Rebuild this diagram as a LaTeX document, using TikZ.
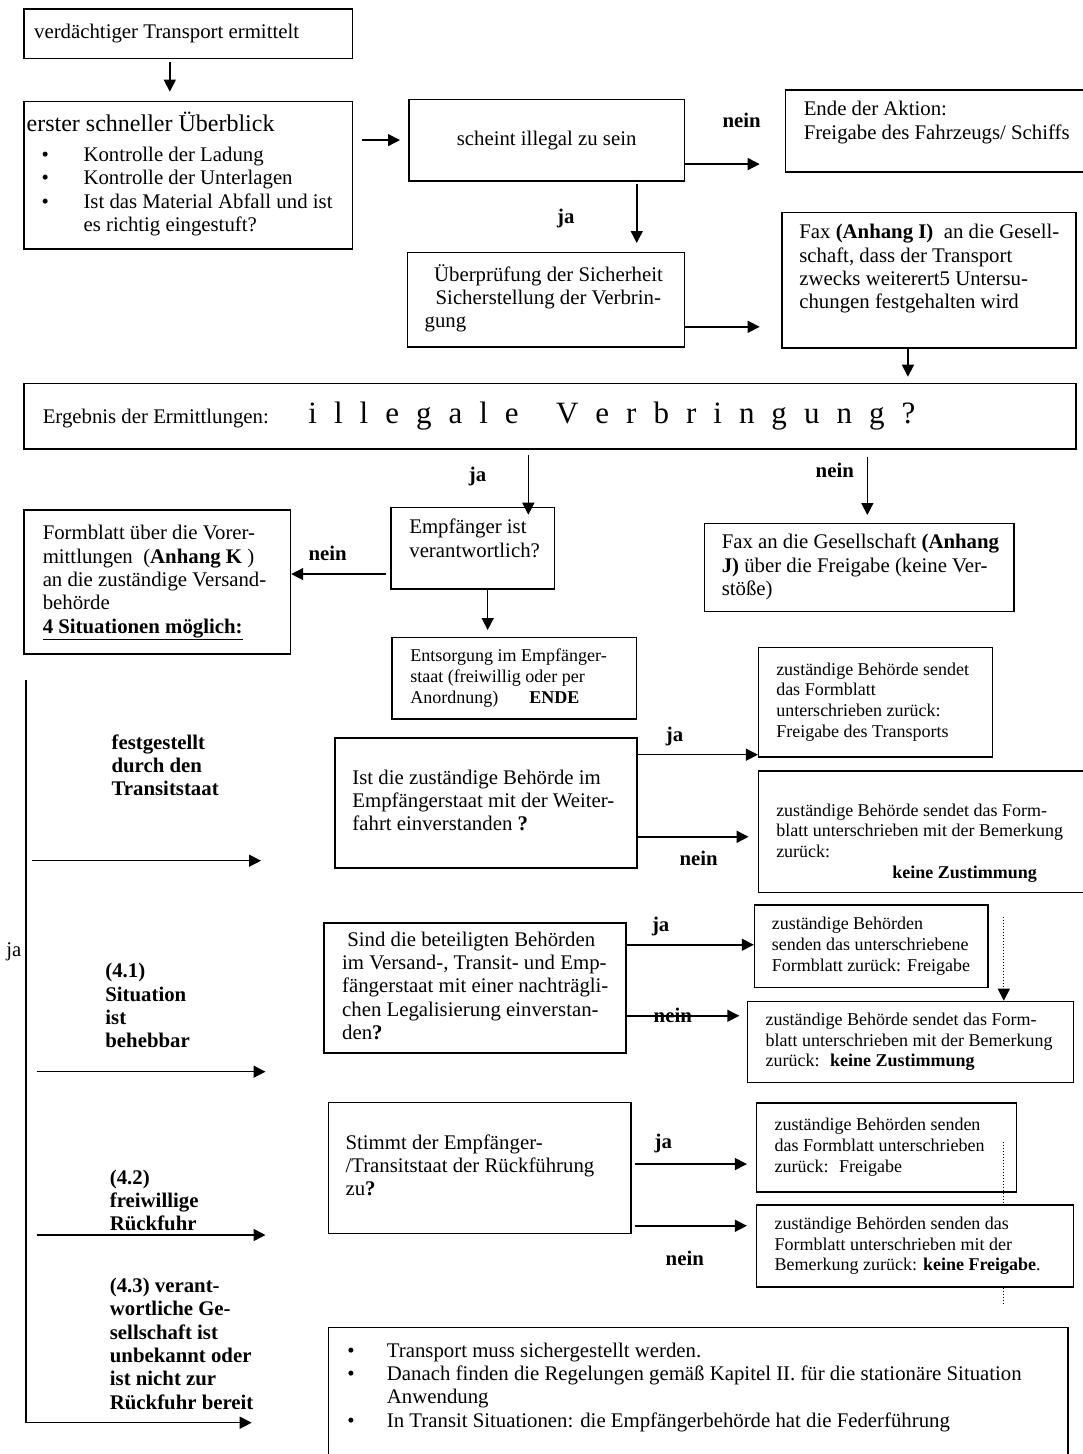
\documentclass[tikz,border=0pt]{standalone}
\usepackage{fontspec}
\setmainfont{Liberation Serif}
\usetikzlibrary{arrows.meta}
\newcommand{\boxtext}[3][17]{\makebox[#2pt][l]{\hspace*{#1pt}\begin{tabular}{@{}l@{}}#3\end{tabular}}}
\newcommand{\bitem}[2]{\hspace*{#1pt}\makebox[#2pt][l]{\textbullet}}
\newcommand{\lettersp}{\fontsize{31}{36}\selectfont\spaceskip=17pt\relax}
\begin{document}
\begin{tikzpicture}[x=1pt,y=-1pt,
  box/.style={draw,line width=1.5pt,anchor=north west,inner sep=0pt,font=\fontsize{20.8}{23.3}\selectfont},
  small/.style={font=\fontsize{18}{20.7}\selectfont},
  lab/.style={font=\fontsize{20.8}{23.3}\selectfont\bfseries,inner sep=0pt},
  side/.style={lab,anchor=west,align=left},
  arr/.style={line width=1.5pt,-{Triangle[length=12pt,width=12pt]}},
  dotline/.style={line width=1.2pt,dash pattern=on 1.2pt off 1.8pt},
  dotarr/.style={dotline,-{Triangle[length=12pt,width=12pt]}}]
 \useasboundingbox (0,0) rectangle (1082,1454);
 \fill[white] (0,0) rectangle (1082,1454);

 \node[box,minimum height=49.4pt] (verd) at (23.4,8.3) {\boxtext[10]{328.3}{verdächtiger Transport ermittelt}};
 \node[box,minimum height=147.6pt] (erster) at (23.4,100.7) {\boxtext[2.5]{328.3}{{\fontsize{24}{28}\selectfont erster schneller Überblick}\\[7pt]
   \bitem{15.1}{41.8}Kontrolle der Ladung\\
   \bitem{15.1}{41.8}Kontrolle der Unterlagen\\
   \bitem{15.1}{41.8}Ist das Material Abfall und ist\\
   \hspace*{56.9pt}es richtig eingestuft?}};
 \node[box,minimum height=81.3pt] (scheint) at (408,98.7) {\makebox[275.8pt]{scheint illegal zu sein}};
 \node[box,minimum height=81.7pt] (ende) at (784.8,89.3) {\boxtext[18.2]{320}{Ende der Aktion:\\Freigabe des Fahrzeugs/ Schiffs\rule[-23pt]{0pt}{23pt}}};
 \node[box,minimum height=94.3pt] (ueber) at (406.9,251.7) {\boxtext{276.9}{\hspace*{9.5pt}Überprüfung der Sicherheit\\\hspace*{11pt}Sicherstellung der Verbrin-\\gung}};
 \node[box,minimum height=135.3pt] (faxI) at (781.4,211.7) {\boxtext[17.2]{293.6}{Fax \textbf{(Anhang I)}~ an die Gesell-\\schaft, dass der Transport\\zwecks weiterert5 Untersu-\\chungen festgehalten wird\rule[-29pt]{0pt}{29pt}}};
 \node[box,minimum height=65.6pt] (ergebnis) at (23.4,382.7) {\makebox[1051.6pt][l]{\makebox[284.3pt][l]{\hspace*{18.6pt}Ergebnis der Ermittlungen:}{\lettersp i l l e g a l e\hspace{37.4pt}V e r b r i n g u n g ?}}};
 \node[box,minimum height=81.6pt] (empf) at (390.3,506.7) {\boxtext[18.3]{163.5}{Empfänger ist\\verantwortlich?\rule[-22pt]{0pt}{22pt}}};
 \node[box,minimum height=144.3pt] (formblatt) at (23.4,509) {\boxtext[18.6]{266.3}{Formblatt über die Vorer-\\mittlungen~ (\textbf{Anhang K} )\\an die zuständige Versand-\\behörde\\\textbf{\underline{4 Situationen möglich:}}}};
 \node[box,small,minimum height=81.6pt] (entsorgung) at (391.4,636.7) {\boxtext[18.3]{244.5}{Entsorgung im Empfänger-\\staat (freiwillig oder per\\Anordnung)\hspace{31pt}\textbf{ENDE}}};
 \node[box,minimum height=88pt] (faxJ) at (703.8,522.7) {\boxtext[17.2]{309.3}{Fax an die Gesellschaft \textbf{(Anhang}\\\textbf{J)} über die Freigabe (keine Ver-\\stöße)}};
 \node[box,minimum height=129.7pt] (weiter) at (334,737.3) {\boxtext[17.7]{302}{Ist die zuständige Behörde im\\Empfängerstaat mit der Weiter-\\fahrt einverstanden \textbf{?}}};
 \node[box,minimum height=130pt] (legal) at (323.4,922.3) {\boxtext[18]{301.8}{\hspace*{5.2pt}Sind die beteiligten Behörden\\im Versand-, Transit- und Emp-\\fängerstaat mit einer nachträgli-\\chen Legalisierung einverstan-\\den\textbf{?}}};
 \node[box,minimum height=131pt] (ruck) at (327.6,1101.7) {\boxtext[17.2]{302.7}{Stimmt der Empfänger-\\/Transitstaat der Rückführung\\zu\textbf{?}}};
 \node[box,minimum height=138.3pt] (hinweis) at (327.6,1326.7) {\boxtext[19]{739.4}{\bitem{0}{39.6}Transport muss sichergestellt werden.\\
   \bitem{0}{39.6}Danach finden die Regelungen gemäß Kapitel II. für die stationäre Situation\\
   \hspace*{39.6pt}Anwendung\\
   \bitem{0}{39.6}In Transit Situationen: die Empfängerbehörde hat die Federführung\rule[-25.4pt]{0pt}{25.4pt}}};

 \node[box,small,minimum height=109.3pt] (freiT) at (757.9,646.7) {\boxtext[17.6]{233.8}{zuständige Behörde sendet\\das Formblatt\\unterschrieben zurück:\\Freigabe des Transports}};
 \node[box,small,minimum height=121.7pt] (keineZ) at (757.9,770) {\boxtext[17.6]{340}{\rule{0pt}{37.5pt}zuständige Behörde sendet das Form-\\blatt unterschrieben mit der Bemerkung\\zurück:\\\hspace*{116.2pt}\textbf{keine Zustimmung}}};
 \node[box,small,minimum height=82.4pt] (freiL) at (753.8,904.3) {\boxtext[17.2]{233.4}{zuständige Behörden\\senden das unterschriebene\\Formblatt zurück: Freigabe}};
 \node[box,small,minimum height=81pt] (keineZL) at (746.9,1000.7) {\boxtext[17.9]{325.9}{zuständige Behörde sendet das Form-\\blatt unterschrieben mit der Bemerkung\\zurück:~ \textbf{keine Zustimmung}}};
 \node[box,small,minimum height=88.7pt] (freiR) at (755.5,1102.3) {\boxtext[18.3]{260.4}{zuständige Behörden senden\\das Formblatt unterschrieben\\zurück:~ Freigabe}};
 \node[box,small,minimum height=81.7pt] (keineF) at (755.5,1204.3) {\boxtext[18.3]{317.3}{zuständige Behörden senden das\\Formblatt unterschrieben mit der\\Bemerkung zurück: \textbf{keine Freigabe}.}};

 \node[lab] (nein1) at (741.7,120) {nein};
 \node[lab] (ja1) at (565.9,218) {ja};
 \node[lab] (ja2) at (477.6,476.7) {ja};
 \node[lab] (nein2) at (834.8,470) {nein};
 \node[lab] (nein3) at (327.6,553.3) {nein};
 \node[lab,font=\fontsize{20.8}{23.3}\selectfont] (jaSide) at (13.8,951.7) {ja};
 \node[side] (transit) at (111.4,765.3) {festgestellt\\durch den\\Transitstaat};
 \node[side] (sit1) at (105.2,1005.8) {(4.1)\\Situation\\ist\\behebbar};
 \node[side] (sit2) at (109.7,1200.3) {(4.2)\\freiwillige\\Rückfuhr};
 \node[side] (sit3) at (109.7,1343.7) {(4.3) verant-\\wortliche Ge-\\sellschaft ist\\unbekannt oder\\ist nicht zur\\Rückfuhr bereit};
 \node[lab] (ja3) at (674.5,736.7) {ja};
 \node[lab] (nein4) at (698.6,858.3) {nein};
 \node[lab] (ja4) at (660.7,926) {ja};
 \node[lab] (nein5) at (672.8,1015) {nein};
 \node[lab] (ja5) at (663.4,1143.3) {ja};
 \node[lab] (nein6) at (684.8,1258.3) {nein};

 \coordinate (n1) at ([yshift=-24pt]scheint.east);
 \coordinate (j1) at ([xshift=90.1pt]scheint.south);
 \coordinate (u1) at ([yshift=-27.2pt]ueber.east);
 \coordinate (f1) at ([xshift=-21pt]faxI.south);
 \coordinate (e1) at ([xshift=-21.6pt]ergebnis.south);
 \coordinate (e2) at ([xshift=317.4pt]ergebnis.south);
 \coordinate (m1) at ([yshift=-25.8pt]empf.west);
 \coordinate (m2) at ([xshift=14.9pt]empf.south);
 \coordinate (w1) at ([yshift=48.2pt]weiter.east);
 \coordinate (w2) at ([yshift=-33.9pt]weiter.east);
 \coordinate (l1) at ([yshift=43.3pt]legal.east);
 \coordinate (l2) at ([yshift=-27.7pt]legal.east);
 \coordinate (r1) at ([yshift=3.9pt]ruck.east);
 \coordinate (r2) at ([yshift=-57.8pt]ruck.east);
 \coordinate (jaTop) at (25.9,680);
 \coordinate (jaEnd) at (251.7,1422.7);
 \coordinate (s1) at (32,860.7);
 \coordinate (s2) at (36.9,1071.7);
 \coordinate (s3) at (36.9,1235);
 \coordinate (d1) at (1003.8,916.7);
 \coordinate (d2) at (1003.8,1141.7);
 \coordinate (d3) at (1003.8,1303.3);

 \draw[arr,shorten <=2.3pt,shorten >=9pt] ([xshift=-18.5pt]verd.south) -- ([xshift=-18.5pt]erster.north);
 \draw[arr,shorten <=8.3pt,shorten >=8pt] (erster.east |- scheint.west) -- (scheint.west);
 \draw[arr,shorten >=25.1pt] (n1) -- (n1 -| ende.west);
 \draw[arr,shorten <=2pt,shorten >=8.7pt] (j1) -- (j1 |- ueber.north);
 \draw[arr,shorten >=21.7pt] (u1) -- (u1 -| faxI.west);
 \draw[arr,shorten >=6pt] (f1) -- (f1 |- ergebnis.north);
 \draw[arr,shorten <=5pt,shorten >=-8pt] (e1) -- (e1 |- empf.north);
 \draw[arr,shorten <=6.7pt,shorten >=7.7pt] (e2) -- (e2 |- faxJ.north);
 \draw[arr,shorten <=4.8pt] (m1) -- (m1 -| formblatt.east);
 \draw[arr,shorten >=6.7pt] (m2) -- (m2 |- entsorgung.north);
 \draw[arr] (jaTop) |- (jaEnd);
 \draw[arr,shorten >=73pt] (s1) -- (s1 -| weiter.west);
 \draw[arr,shorten >=57.9pt] (s2) -- (s2 -| legal.west);
 \draw[arr,shorten >=62.1pt] (s3) -- (s3 -| ruck.west);
 \draw[arr] (w1) -- (w1 -| freiT.west);
 \draw[arr,shorten >=9.3pt] (w2) -- (w2 -| keineZ.west);
 \draw[arr] (l1) -- (l1 -| freiL.west);
 \draw[arr,shorten >=7.6pt] (l2) -- (l2 -| keineZL.west);
 \draw[arr,shorten <=2.8pt,shorten >=8.6pt] (r1) -- (r1 -| freiR.west);
 \draw[arr,shorten <=2.8pt,shorten >=8.6pt] (r2) -- (r2 -| keineF.west);
 \draw[dotarr] (d1) -- (d1 |- keineZL.north);
 \draw[dotline] (d2) -- (d2 |- keineF.north);
 \draw[dotline] (keineF.south -| d3) -- (d3);
\end{tikzpicture}
\end{document}
